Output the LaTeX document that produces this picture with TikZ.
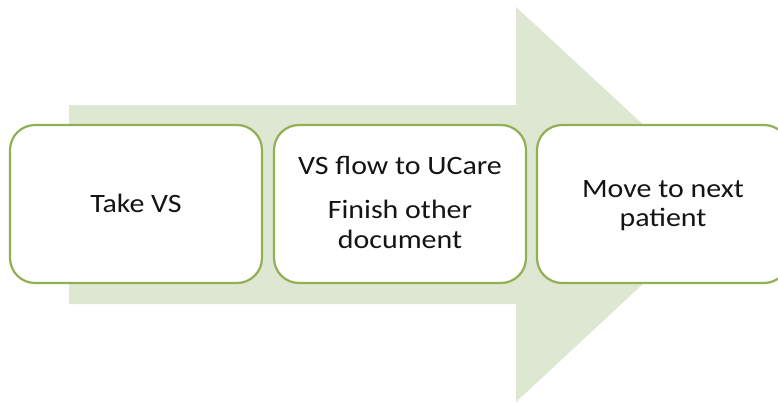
\documentclass[tikz,border=0pt]{standalone}
\usepackage{fontspec}
\setmainfont[FakeStretch=1.13]{Carlito}
\definecolor{arrowfill}{RGB}{222,231,209}
\definecolor{boxline}{RGB}{145,176,84}
\definecolor{txt}{RGB}{20,20,20}
\tikzset{
  stepbox/.style={draw=boxline, line width=2.2pt, fill=white, rounded corners=25pt},
  steptext/.style={anchor=base, inner sep=0pt, text=txt, font=\fontsize{26.5pt}{30pt}\selectfont}
}
\begin{document}
\begin{tikzpicture}[x=1pt,y=-1pt]
\useasboundingbox (0,0) rectangle (778,404);
\clip (0,0) rectangle (778,404);
% big arrow
\fill[arrowfill] (69,105) -- (516,105) -- (516,7) -- (729,204) -- (516,402) -- (516,304) -- (69,304) -- cycle;
% boxes
\draw[stepbox] (10,125) rectangle (262,283);
\draw[stepbox] (274,125) rectangle (526,283);
\draw[stepbox] (537,125) rectangle (789,283);
\coordinate (b1) at (136,204);
\coordinate (b2) at (400,204);
\coordinate (b3) at (663,204);
% texts
\node[steptext] (t1) at (136,212) {Take VS};
\node[steptext] (t2a) at (400,174) {VS flow to UCare};
\node[steptext] (t2b) at (400,218) {Finish other};
\node[steptext] (t2c) at (400,248) {document};
\node[steptext] (t3a) at (663,197) {Move to next};
\node[steptext] (t3b) at (663,226) {patient};
\end{tikzpicture}
\end{document}
